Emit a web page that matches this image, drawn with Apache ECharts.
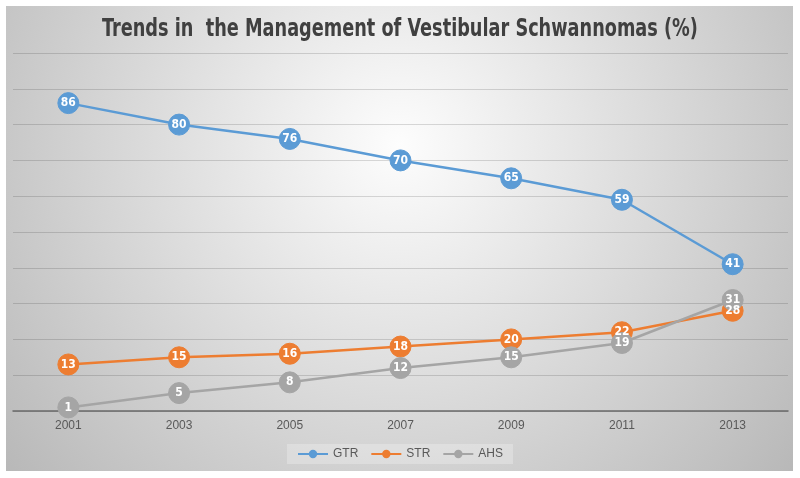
<!DOCTYPE html>
<html>
<head>
<meta charset="utf-8">
<script src="https://cdn.jsdelivr.net/npm/echarts@6/dist/echarts.min.js"></script>
<style>html,body{margin:0;padding:0;background:#fff}#c{width:800px;height:478px}</style>
</head>
<body>
<div id="c"></div>
<script>
const titleText = 'Trends in  the Management of Vestibular Schwannomas (%)';
const years = ['2001','2003','2005','2007','2009','2011','2013'];
const gtr = [86, 80, 76, 70, 65, 59, 41];
const str = [13, 15, 16, 18, 20, 22, 28];
const ahs = [1, 5, 8, 12, 15, 19, 31];
const seriesNames = ['GTR', 'STR', 'AHS'];
const colors = ['#5b9bd5', '#ed7d31', '#a5a5a5'];

const chart = echarts.init(document.getElementById('c'));
function mk(name, data, color) {
  return {
    name: name, type: 'line', data: data,
    symbol: 'circle', symbolSize: 21,
    lineStyle: { color: color, width: 2.5 },
    itemStyle: { color: color, borderColor: color, borderWidth: 1 },
    label: { show: true, position: 'inside', color: '#fff', fontSize: 12, fontWeight: 'bold',
             fontFamily: 'DejaVu Sans Condensed, sans-serif' },
    emphasis: { disabled: true }
  };
}
chart.setOption({
  animation: false,
  color: colors,
  graphic: [{
    type: 'rect', z: -10, silent: true,
    shape: { x: 6, y: 6, width: 787, height: 465 },
    style: { fill: { type: 'radial', x: 0.5, y: 0.3, r: 1.1,
      colorStops: [{ offset: 0, color: '#fdfdfd' }, { offset: 1, color: '#b8b8b8' }] } }
  }, {
    type: 'text', x: 400, y: 30, scaleX: 0.82, silent: true,
    style: { text: titleText, align: 'center', verticalAlign: 'middle',
             font: 'bold 24px "DejaVu Sans Condensed", sans-serif', fill: '#404040' }
  }],
  legend: {
    data: seriesNames, bottom: 14, left: 'center',
    itemWidth: 30, itemHeight: 8, itemGap: 12,
    backgroundColor: 'rgba(255,255,255,0.25)', padding: [4, 10],
    textStyle: { fontFamily: 'Liberation Sans, sans-serif', fontSize: 12, color: '#595959' }
  },
  grid: { left: 13, right: 12, top: 53, bottom: 67, containLabel: false },
  xAxis: {
    type: 'category', data: years, boundaryGap: true,
    axisLine: { lineStyle: { color: '#6a6a6a', width: 1.5 } },
    axisTick: { show: false },
    axisLabel: { fontFamily: 'Liberation Sans, sans-serif', fontSize: 12, color: '#595959', margin: 9 }
  },
  yAxis: {
    type: 'value', min: 0, max: 100, interval: 10,
    axisLabel: { show: false }, axisLine: { show: false }, axisTick: { show: false },
    splitLine: { lineStyle: { color: 'rgba(0,0,0,0.14)', width: 1.2 } }
  },
  series: [mk(seriesNames[0], gtr, colors[0]), mk(seriesNames[1], str, colors[1]), mk(seriesNames[2], ahs, colors[2])]
});
</script>
</body>
</html>
